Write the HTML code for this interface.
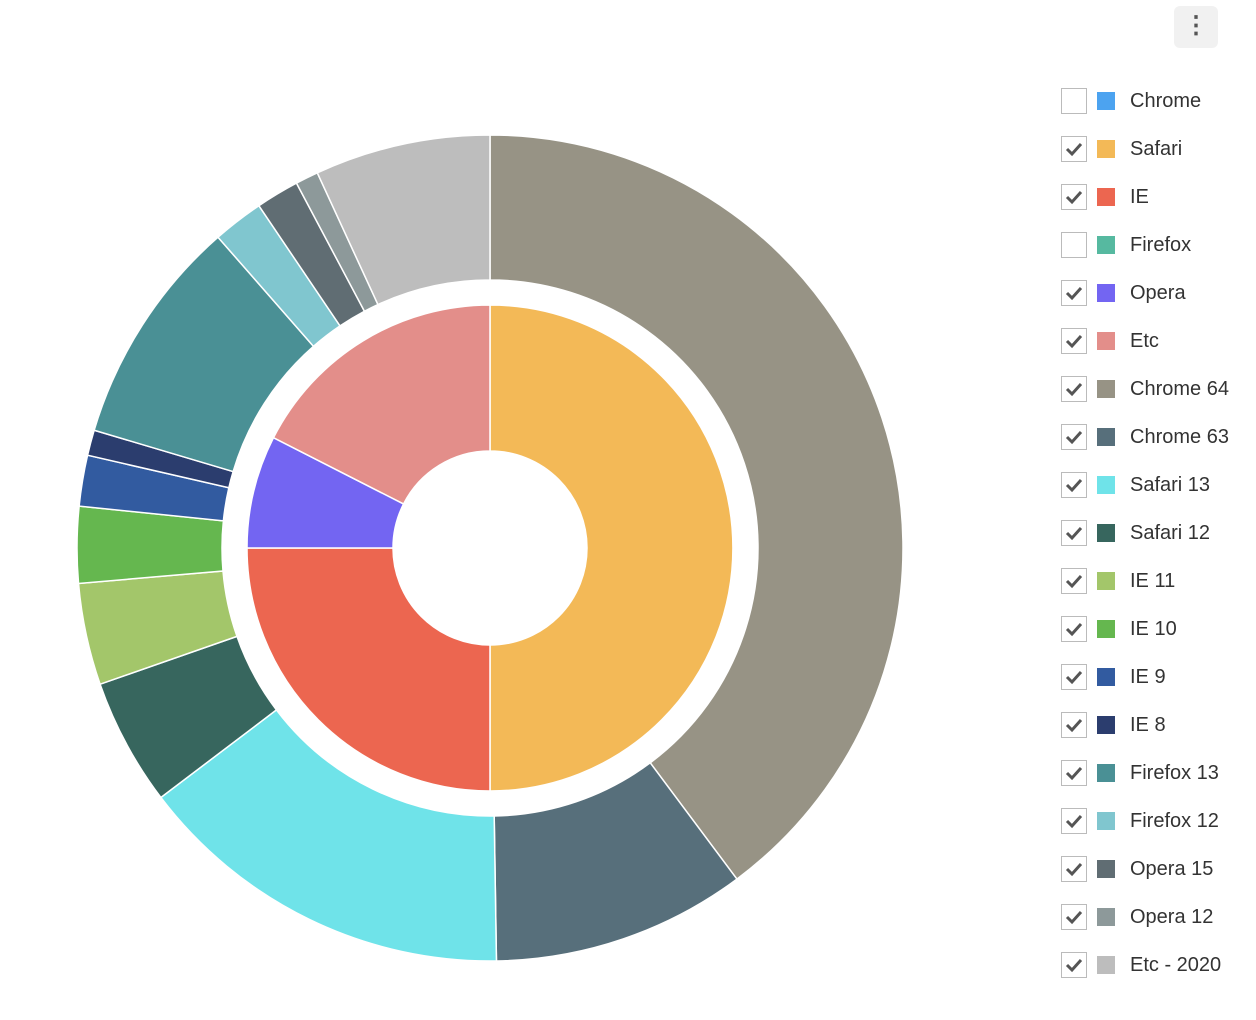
<!DOCTYPE html>
<html><head><meta charset="utf-8"><style>
html,body{margin:0;padding:0;background:#fff;width:1256px;height:1020px;overflow:hidden;font-family:"Liberation Sans",sans-serif}
#chart{position:absolute;left:0;top:0}
.menu{position:absolute;left:1174px;top:6px;width:44px;height:42px;background:#f1f1f1;border-radius:6px;color:#555;font-size:24px;text-align:center;line-height:40px;font-weight:bold}
.leg{position:absolute;left:1061px;height:26px}
.cb{position:absolute;left:0;top:0;width:24px;height:24px;border:1px solid #bbb;background:#fff}
.cb svg{position:absolute;left:3px;top:4px}
.sw{position:absolute;left:36px;top:4px;width:18px;height:18px}
.lt{position:absolute;left:69px;top:0;font-size:20px;line-height:26px;color:#333;white-space:nowrap}
</style></head><body>
<svg id="chart" width="1040" height="1020"></svg>
<div class="menu">⋮</div>
<div id="legend"></div>
<script>
const innerLabels=["Safari","IE","Opera","Etc"];
const innerValues=[50,25,7.5,17.5];
const innerColors=["#f3b957","#ec6650","#7365f2","#e38e8a"];
const outerLabels=["Chrome 64","Chrome 63","Safari 13","Safari 12","IE 11","IE 10","IE 9","IE 8","Firefox 13","Firefox 12","Opera 15","Opera 12","Etc - 2020"];
const outerValues=[40,10,15,5,4,3,2,1,9,2,1.7,0.9,6.9];
const outerColors=["#979385","#576f7b","#6fe3e9","#37665e","#a3c66a","#65b74f","#325ba0","#2b3d6e","#4a9095","#80c6cf","#606d73","#8d999a","#bdbdbd"];
const legendLabels=["Chrome","Safari","IE","Firefox","Opera","Etc","Chrome 64","Chrome 63","Safari 13","Safari 12","IE 11","IE 10","IE 9","IE 8","Firefox 13","Firefox 12","Opera 15","Opera 12","Etc - 2020"];
const legendColors=["#4ca3f0","#f3b957","#ec6650","#56b9a0","#7365f2","#e38e8a","#979385","#576f7b","#6fe3e9","#37665e","#a3c66a","#65b74f","#325ba0","#2b3d6e","#4a9095","#80c6cf","#606d73","#8d999a","#bdbdbd"];
const legendChecked=[false,true,true,false,true,true,true,true,true,true,true,true,true,true,true,true,true,true,true];

const NS="http://www.w3.org/2000/svg";
const svg=document.getElementById('chart');
const cx=490,cy=548;
function pt(r,a){return [cx+r*Math.sin(a),cy-r*Math.cos(a)];}
function arc(r0,r1,a0,a1){
  const large=(a1-a0)>Math.PI?1:0;
  const p0=pt(r1,a0),p1=pt(r1,a1),p2=pt(r0,a1),p3=pt(r0,a0);
  return `M${p0[0]},${p0[1]}A${r1},${r1} 0 ${large} 1 ${p1[0]},${p1[1]}L${p2[0]},${p2[1]}A${r0},${r0} 0 ${large} 0 ${p3[0]},${p3[1]}Z`;
}
function ring(vals,cols,labels,r0,r1,prefix){
  const sum=vals.reduce((a,b)=>a+b,0);
  let a=0;
  vals.forEach((v,i)=>{
    const a1=a+v/sum*2*Math.PI;
    const p=document.createElementNS(NS,'path');
    p.setAttribute('d',arc(r0,r1,a,a1));
    p.setAttribute('fill',cols[i]);
    p.setAttribute('stroke','#fff');
    p.setAttribute('stroke-width','1.5');
    
    
    svg.appendChild(p);
    a=a1;
  });
}
ring(innerValues,innerColors,innerLabels,97,243,'inner-slice');
ring(outerValues,outerColors,outerLabels,268,413,'outer-slice');

const leg=document.getElementById('legend');
legendLabels.forEach((l,i)=>{
  const d=document.createElement('div');
  d.className='leg';d.style.top=(88+i*48)+'px';
  
  
  d.innerHTML='<div class="cb">'+(legendChecked[i]?'<svg width="18" height="16"><path d="M2 8 L7 13 L16 3" stroke="#555" stroke-width="3" fill="none"/></svg>':'')+'</div><div class="sw" style="background:'+legendColors[i]+'"></div><div class="lt">'+l+'</div>';
  leg.appendChild(d);
});
</script>
</body></html>
